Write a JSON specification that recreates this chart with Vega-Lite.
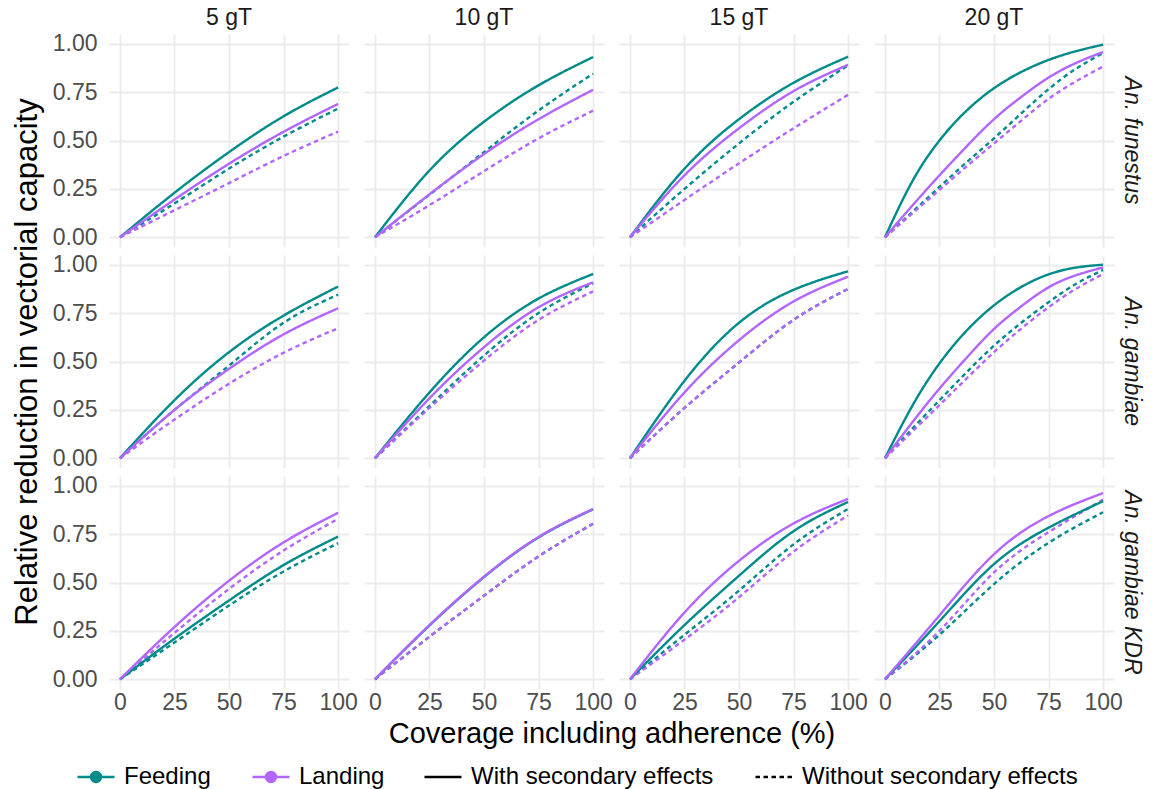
{
  "$schema": "https://vega.github.io/schema/vega-lite/v6.json",
  "background": "white",
  "padding": {"left": 11, "top": 7, "right": 6, "bottom": 0},
  "data": {"values": [
    {"s":"An. funestus","d":"5 gT","x":0,"fw":0,"lw":0,"fo":0,"lo":0},
    {"s":"An. funestus","d":"5 gT","x":25,"fw":0.23,"lw":0.195,"fo":0.175,"lo":0.14},
    {"s":"An. funestus","d":"5 gT","x":50,"fw":0.44,"lw":0.38,"fo":0.355,"lo":0.28},
    {"s":"An. funestus","d":"5 gT","x":75,"fw":0.625,"lw":0.545,"fo":0.52,"lo":0.42},
    {"s":"An. funestus","d":"5 gT","x":100,"fw":0.774,"lw":0.689,"fo":0.665,"lo":0.546},
    {"s":"An. funestus","d":"10 gT","x":0,"fw":0,"lw":0,"fo":0,"lo":0},
    {"s":"An. funestus","d":"10 gT","x":25,"fw":0.345,"lw":0.222,"fo":0.22,"lo":0.166},
    {"s":"An. funestus","d":"10 gT","x":50,"fw":0.597,"lw":0.43,"fo":0.44,"lo":0.342},
    {"s":"An. funestus","d":"10 gT","x":75,"fw":0.785,"lw":0.61,"fo":0.655,"lo":0.511},
    {"s":"An. funestus","d":"10 gT","x":100,"fw":0.931,"lw":0.762,"fo":0.845,"lo":0.654},
    {"s":"An. funestus","d":"15 gT","x":0,"fw":0,"lw":0,"fo":0,"lo":0},
    {"s":"An. funestus","d":"15 gT","x":25,"fw":0.354,"lw":0.32,"fo":0.25,"lo":0.193},
    {"s":"An. funestus","d":"15 gT","x":50,"fw":0.61,"lw":0.563,"fo":0.485,"lo":0.382},
    {"s":"An. funestus","d":"15 gT","x":75,"fw":0.798,"lw":0.755,"fo":0.7,"lo":0.563},
    {"s":"An. funestus","d":"15 gT","x":100,"fw":0.933,"lw":0.891,"fo":0.888,"lo":0.736},
    {"s":"An. funestus","d":"20 gT","x":0,"fw":0,"lw":0,"fo":0,"lo":0},
    {"s":"An. funestus","d":"20 gT","x":12.5,"fw":0.288,"lw":0.163,"fo":0.13,"lo":0.123},
    {"s":"An. funestus","d":"20 gT","x":25,"fw":0.5,"lw":0.32,"fo":0.26,"lo":0.245},
    {"s":"An. funestus","d":"20 gT","x":37.5,"fw":0.655,"lw":0.47,"fo":0.388,"lo":0.367},
    {"s":"An. funestus","d":"20 gT","x":50,"fw":0.77,"lw":0.61,"fo":0.511,"lo":0.485},
    {"s":"An. funestus","d":"20 gT","x":62.5,"fw":0.854,"lw":0.725,"fo":0.64,"lo":0.603},
    {"s":"An. funestus","d":"20 gT","x":75,"fw":0.916,"lw":0.825,"fo":0.765,"lo":0.715},
    {"s":"An. funestus","d":"20 gT","x":87.5,"fw":0.961,"lw":0.9,"fo":0.87,"lo":0.805},
    {"s":"An. funestus","d":"20 gT","x":100,"fw":0.995,"lw":0.957,"fo":0.952,"lo":0.882},
    {"s":"An. gambiae","d":"5 gT","x":0,"fw":0,"lw":0,"fo":0,"lo":0},
    {"s":"An. gambiae","d":"5 gT","x":25,"fw":0.3,"lw":0.25,"fo":0.25,"lo":0.2},
    {"s":"An. gambiae","d":"5 gT","x":50,"fw":0.548,"lw":0.462,"fo":0.479,"lo":0.385},
    {"s":"An. gambiae","d":"5 gT","x":75,"fw":0.737,"lw":0.64,"fo":0.7,"lo":0.545},
    {"s":"An. gambiae","d":"5 gT","x":100,"fw":0.887,"lw":0.775,"fo":0.845,"lo":0.672},
    {"s":"An. gambiae","d":"10 gT","x":0,"fw":0,"lw":0,"fo":0,"lo":0},
    {"s":"An. gambiae","d":"10 gT","x":25,"fw":0.34,"lw":0.31,"fo":0.27,"lo":0.26},
    {"s":"An. gambiae","d":"10 gT","x":50,"fw":0.625,"lw":0.574,"fo":0.531,"lo":0.505},
    {"s":"An. gambiae","d":"10 gT","x":75,"fw":0.825,"lw":0.78,"fo":0.75,"lo":0.715},
    {"s":"An. gambiae","d":"10 gT","x":100,"fw":0.952,"lw":0.909,"fo":0.904,"lo":0.862},
    {"s":"An. gambiae","d":"15 gT","x":0,"fw":0,"lw":0,"fo":0,"lo":0},
    {"s":"An. gambiae","d":"15 gT","x":25,"fw":0.4,"lw":0.34,"fo":0.26,"lo":0.26},
    {"s":"An. gambiae","d":"15 gT","x":50,"fw":0.7,"lw":0.61,"fo":0.495,"lo":0.495},
    {"s":"An. gambiae","d":"15 gT","x":75,"fw":0.87,"lw":0.81,"fo":0.715,"lo":0.715},
    {"s":"An. gambiae","d":"15 gT","x":100,"fw":0.966,"lw":0.938,"fo":0.875,"lo":0.875},
    {"s":"An. gambiae","d":"20 gT","x":0,"fw":0,"lw":0,"fo":0,"lo":0},
    {"s":"An. gambiae","d":"20 gT","x":12.5,"fw":0.27,"lw":0.185,"fo":0.152,"lo":0.138},
    {"s":"An. gambiae","d":"20 gT","x":25,"fw":0.49,"lw":0.36,"fo":0.3,"lo":0.275},
    {"s":"An. gambiae","d":"20 gT","x":37.5,"fw":0.66,"lw":0.52,"fo":0.445,"lo":0.413},
    {"s":"An. gambiae","d":"20 gT","x":50,"fw":0.79,"lw":0.668,"fo":0.582,"lo":0.548},
    {"s":"An. gambiae","d":"20 gT","x":62.5,"fw":0.885,"lw":0.785,"fo":0.7,"lo":0.67},
    {"s":"An. gambiae","d":"20 gT","x":75,"fw":0.95,"lw":0.883,"fo":0.806,"lo":0.78},
    {"s":"An. gambiae","d":"20 gT","x":87.5,"fw":0.985,"lw":0.945,"fo":0.9,"lo":0.875},
    {"s":"An. gambiae","d":"20 gT","x":100,"fw":1.0,"lw":0.986,"fo":0.973,"lo":0.952},
    {"s":"An. gambiae KDR","d":"5 gT","x":0,"fw":0,"lw":0,"fo":0,"lo":0},
    {"s":"An. gambiae KDR","d":"5 gT","x":25,"fw":0.21,"lw":0.27,"fo":0.19,"lo":0.24},
    {"s":"An. gambiae KDR","d":"5 gT","x":50,"fw":0.407,"lw":0.509,"fo":0.381,"lo":0.467},
    {"s":"An. gambiae KDR","d":"5 gT","x":75,"fw":0.59,"lw":0.707,"fo":0.557,"lo":0.665},
    {"s":"An. gambiae KDR","d":"5 gT","x":100,"fw":0.737,"lw":0.86,"fo":0.703,"lo":0.829},
    {"s":"An. gambiae KDR","d":"10 gT","x":0,"fw":0,"lw":0,"fo":0,"lo":0},
    {"s":"An. gambiae KDR","d":"10 gT","x":25,"fw":0.278,"lw":0.28,"fo":0.22,"lo":0.22},
    {"s":"An. gambiae KDR","d":"10 gT","x":50,"fw":0.528,"lw":0.53,"fo":0.432,"lo":0.432},
    {"s":"An. gambiae KDR","d":"10 gT","x":75,"fw":0.733,"lw":0.735,"fo":0.635,"lo":0.635},
    {"s":"An. gambiae KDR","d":"10 gT","x":100,"fw":0.878,"lw":0.88,"fo":0.803,"lo":0.803},
    {"s":"An. gambiae KDR","d":"15 gT","x":0,"fw":0,"lw":0,"fo":0,"lo":0},
    {"s":"An. gambiae KDR","d":"15 gT","x":25,"fw":0.28,"lw":0.345,"fo":0.23,"lo":0.205},
    {"s":"An. gambiae KDR","d":"15 gT","x":50,"fw":0.535,"lw":0.612,"fo":0.458,"lo":0.424},
    {"s":"An. gambiae KDR","d":"15 gT","x":75,"fw":0.765,"lw":0.805,"fo":0.697,"lo":0.66},
    {"s":"An. gambiae KDR","d":"15 gT","x":100,"fw":0.916,"lw":0.932,"fo":0.88,"lo":0.846},
    {"s":"An. gambiae KDR","d":"20 gT","x":0,"fw":0,"lw":0,"fo":0,"lo":0},
    {"s":"An. gambiae KDR","d":"20 gT","x":25,"fw":0.3,"lw":0.33,"fo":0.23,"lo":0.25},
    {"s":"An. gambiae KDR","d":"20 gT","x":50,"fw":0.595,"lw":0.646,"fo":0.492,"lo":0.552},
    {"s":"An. gambiae KDR","d":"20 gT","x":75,"fw":0.783,"lw":0.843,"fo":0.705,"lo":0.76},
    {"s":"An. gambiae KDR","d":"20 gT","x":100,"fw":0.92,"lw":0.962,"fo":0.863,"lo":0.928}
  ]},
  "facet": {
    "row": {"field": "s", "type": "nominal", "sort": ["An. funestus", "An. gambiae", "An. gambiae KDR"],
      "title": "Relative reduction in vectorial capacity",
      "header": {"titleOrient": "left", "titleAngle": -90, "titleFontSize": 31, "titleFontWeight": "normal", "titleFont": "Liberation Sans", "titleColor": "#000000", "titlePadding": -33,
        "labelOrient": "right", "labelAngle": 90, "labelFontStyle": "italic", "labelFontSize": 23, "labelFont": "Liberation Sans", "labelColor": "#1a1a1a", "labelPadding": 6}},
    "column": {"field": "d", "type": "nominal", "sort": ["5 gT", "10 gT", "15 gT", "20 gT"],
      "title": "Coverage including adherence (%)",
      "header": {"titleOrient": "bottom", "titleFontSize": 29, "titleFontWeight": "normal", "titleFont": "Liberation Sans", "titleColor": "#000000", "titlePadding": -4,
        "labelOrient": "top", "labelFontSize": 23, "labelFont": "Liberation Sans", "labelColor": "#1a1a1a", "labelPadding": 4}}
  },
  "spacing": {"row": 8, "column": 15},
  "spec": {
    "width": 240,
    "height": 213,
    "encoding": {
      "x": {"field": "x", "type": "quantitative", "scale": {"domain": [-5, 105], "nice": false},
        "axis": {"values": [0, 25, 50, 75, 100], "title": null, "labelFlush": false, "labelPadding": 2}}
    },
    "layer": [
      {"mark": {"type": "line", "interpolate": "natural", "strokeWidth": 2.4, "clip": true},
       "encoding": {
         "y": {"field": "fo", "type": "quantitative", "scale": {"domain": [-0.05, 1.05], "nice": false},
           "axis": {"values": [0, 0.25, 0.5, 0.75, 1], "format": ".2f", "title": null, "labelPadding": 12}},
         "color": {"datum": "Feeding", "type": "nominal"},
         "strokeDash": {"datum": "Without secondary effects", "type": "nominal"}
       }},
      {"mark": {"type": "line", "interpolate": "natural", "strokeWidth": 2.4, "clip": true},
       "encoding": {
         "y": {"field": "lo", "type": "quantitative", "scale": {"domain": [-0.05, 1.05], "nice": false},
           "axis": {"values": [0, 0.25, 0.5, 0.75, 1], "format": ".2f", "title": null, "labelPadding": 12}},
         "color": {"datum": "Landing", "type": "nominal"},
         "strokeDash": {"datum": "Without secondary effects", "type": "nominal"}
       }},
      {"mark": {"type": "line", "interpolate": "natural", "strokeWidth": 2.4, "clip": true},
       "encoding": {
         "y": {"field": "fw", "type": "quantitative", "scale": {"domain": [-0.05, 1.05], "nice": false},
           "axis": {"values": [0, 0.25, 0.5, 0.75, 1], "format": ".2f", "title": null, "labelPadding": 12}},
         "color": {"datum": "Feeding", "type": "nominal"},
         "strokeDash": {"datum": "With secondary effects", "type": "nominal"}
       }},
      {"mark": {"type": "line", "interpolate": "natural", "strokeWidth": 2.4, "clip": true},
       "encoding": {
         "y": {"field": "lw", "type": "quantitative", "scale": {"domain": [-0.05, 1.05], "nice": false},
           "axis": {"values": [0, 0.25, 0.5, 0.75, 1], "format": ".2f", "title": null, "labelPadding": 12}},
         "color": {"datum": "Landing", "type": "nominal",
           "scale": {"domain": ["Feeding", "Landing"], "range": ["#008b8b", "#b266ff"]},
           "legend": {"title": null, "orient": "bottom", "direction": "horizontal",
             "symbolType": "M-1,0L1,0M-0.27,0A0.27,0.27,0,1,1,0.27,0A0.27,0.27,0,1,1,-0.27,0Z",
             "symbolSize": 1370, "symbolStrokeWidth": 2.4, "labelOffset": 8, "columnPadding": 36, "labelLimit": 0,
             "encode": {"symbols": {"update": {"fill": {"scale": "color", "field": "value"}, "stroke": {"scale": "color", "field": "value"}}}}}},
         "strokeDash": {"datum": "With secondary effects", "type": "nominal",
           "scale": {"domain": ["With secondary effects", "Without secondary effects"], "range": [[1, 0], [4.5, 3.5]]},
           "legend": {"title": null, "orient": "bottom", "direction": "horizontal", "symbolType": "stroke",
             "symbolSize": 1370, "symbolStrokeWidth": 2.4, "symbolStrokeColor": "#000000", "labelOffset": 8, "columnPadding": 36, "labelLimit": 0,
             "encode": {"symbols": {"update": {"stroke": {"value": "#000000"}}}}}}
       }}
    ]
  },
  "config": {
    "font": "Liberation Sans",
    "view": {"stroke": null},
    "axis": {"domain": false, "ticks": false, "grid": true, "gridColor": "#ebebeb", "gridWidth": 1.8,
      "labelFont": "Liberation Sans", "labelFontSize": 23, "labelColor": "#4d4d4d"},
    "legend": {"labelFont": "Liberation Sans", "labelFontSize": 24, "labelColor": "#000000", "offset": 8, "labelLimit": 0,
      "layout": {"bottom": {"anchor": "middle", "margin": 38}}}
  }
}
